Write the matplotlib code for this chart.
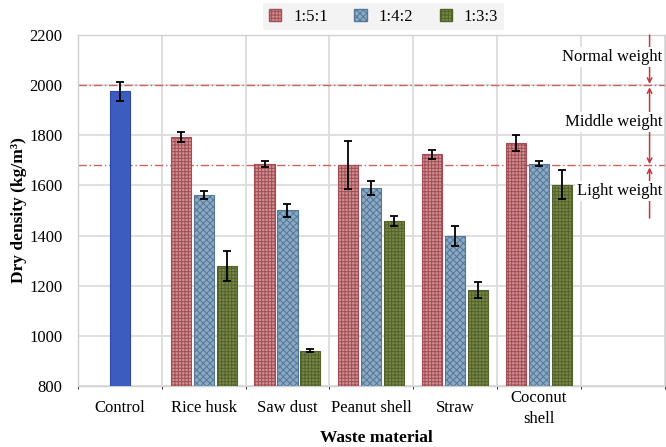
import matplotlib
matplotlib.use("Agg")
import matplotlib.pyplot as plt
import numpy as np
from matplotlib.patches import Patch

plt.rcParams['font.family'] = ['Liberation Serif', 'DejaVu Serif']
plt.rcParams['hatch.linewidth'] = 0.7

# Data
categories = ["Control", "Rice husk", "Saw dust", "Peanut shell", "Straw", "Coconut\nshell", ""]
ratios = ["1:5:1", "1:4:2", "1:3:3"]
control_value = 1975
control_err = 38
mix_151 = [1795, 1684, 1680, 1724, 1770]
mix_151_err = [20, 12, 96, 18, 32]
mix_142 = [1561, 1501, 1591, 1399, 1687]
mix_142_err = [15, 25, 28, 40, 10]
mix_133 = [1277, 941, 1459, 1184, 1603]
mix_133_err = [60, 5, 21, 31, 58]
normal_limit = 2000
light_limit = 1680

fig = plt.figure(figsize=(6.66, 4.47), dpi=100)
ax = fig.add_axes([0.117, 0.1365, 0.881, 0.785])

x = np.arange(len(categories))
bw = 0.24
off = 0.274
err_kw = dict(ecolor='black', elinewidth=1.3, capsize=3, capthick=1.3)

ax.bar(x[0], control_value, bw, bottom=0, color='#3d5cc0', edgecolor='#2f48a8',
       linewidth=0.8, yerr=control_err, error_kw=err_kw, zorder=3)

styles = [
    dict(facecolor='#cc9292', edgecolor='#a34c56', hatch='+++++'),
    dict(facecolor='#8aaac2', edgecolor='#56769a', hatch='xxxxx'),
    dict(facecolor='#798848', edgecolor='#52622a', hatch='+++++'),
]
series = [(mix_151, mix_151_err), (mix_142, mix_142_err), (mix_133, mix_133_err)]
xs = x[1:6]
for i, ((vals, errs), st) in enumerate(zip(series, styles)):
    ax.bar(xs + (i - 1) * off, vals, bw, yerr=errs, error_kw=err_kw,
           linewidth=0.8, zorder=3, **st)

ax.set_xlim(-0.5, 6.5)
ax.set_ylim(800, 2200)
ax.set_yticks(np.arange(800, 2201, 200))
ax.set_xticks(x)
ax.set_xticklabels(categories, fontsize=12, linespacing=1.4, va='center')
ax.set_xticks(np.arange(-0.5, 6.6, 1), minor=True)
ax.tick_params(axis='both', length=0, labelsize=12)
ax.tick_params(axis='x', pad=16)
ax.tick_params(axis='y', pad=11)
ax.grid(axis='y', color='#dcdcdc', linewidth=1.3, zorder=0)
ax.grid(axis='x', which='minor', color='#dcdcdc', linewidth=1.3, zorder=0)
for s in ax.spines.values():
    s.set_color('#d0d0d0')
    s.set_linewidth(1.0)

ax.set_ylabel("Dry density (kg/m³)", fontsize=12.5, fontweight='bold')
ax.yaxis.label.set_va('center')
ax.yaxis.set_label_coords(-0.1, 0.5)
ax.set_xlabel("Waste material", fontsize=12.5, fontweight='bold')
ax.xaxis.label.set_va('center')
ax.xaxis.set_label_coords(0.508, -0.148)

# Weight class boundaries
for yv in (normal_limit, light_limit):
    ax.axhline(yv, color='#c86464', linewidth=1.0, linestyle=(0, (6, 2, 1, 2)), zorder=2)

xa = 6.32
red = '#c0393d'
ap = dict(arrowstyle='->', color=red, lw=1.1, mutation_scale=8, shrinkA=0, shrinkB=0)
ax.annotate('', xy=(xa, normal_limit + 5), xytext=(xa, 2200), arrowprops=ap, zorder=4)
ax.annotate('', xy=(xa, normal_limit - 8), xytext=(xa, 1850), arrowprops=ap, zorder=4)
ax.annotate('', xy=(xa, light_limit + 5), xytext=(xa, 1850), arrowprops=ap, zorder=4)
ax.annotate('', xy=(xa, light_limit - 8), xytext=(xa, 1470), arrowprops=ap, zorder=4)

tb = dict(facecolor='white', edgecolor='none', pad=1.5)
ax.text(6.47, 2112, "Normal weight", ha='right', va='center', fontsize=12, bbox=tb, zorder=5)
ax.text(6.47, 1852, "Middle weight", ha='right', va='center', fontsize=12, bbox=tb, zorder=5)
ax.text(6.47, 1576, "Light weight", ha='right', va='center', fontsize=12, bbox=tb, zorder=5)

handles = [Patch(label=r, **st) for r, st in zip(ratios, styles)]
leg = fig.legend(handles=handles, loc='center', bbox_to_anchor=(0.576, 0.963), ncol=3,
                 fontsize=12, frameon=True, fancybox=False, handlelength=0.75,
                 handleheight=0.75, columnspacing=1.6, handletextpad=0.7,
                 borderpad=0.35)
leg.get_frame().set_facecolor('#f0f0f0')
leg.get_frame().set_edgecolor('none')

fig.savefig("out.png", dpi=100)
